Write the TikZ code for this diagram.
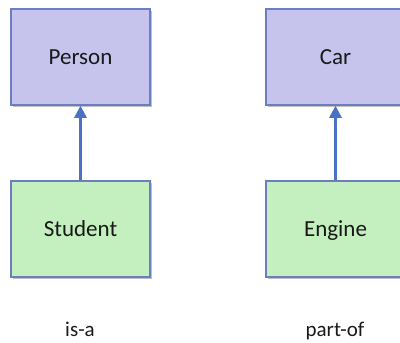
\documentclass[tikz,border=0pt]{standalone}
\usepackage{fontspec}
\setmainfont{Carlito}
\usetikzlibrary{arrows.meta,shadows}
\definecolor{boxline}{HTML}{6A80BE}
\definecolor{topfill}{HTML}{C6C3EC}
\definecolor{botfill}{HTML}{C3F0BE}
\definecolor{arrowcol}{HTML}{4A72C4}
\begin{document}
\begin{tikzpicture}[x=1pt,y=-1pt,
  cls/.style={draw=boxline,line width=1.5pt,minimum width=139pt,minimum height=96pt,
    inner sep=0pt,text height=15pt,text depth=0pt,font=\fontsize{23}{26}\selectfont,text=black!90,
    drop shadow={shadow xshift=1.5pt,shadow yshift=-1.5pt,opacity=0.45,fill=black!55}},
  upper/.style={cls,fill=topfill},
  lower/.style={cls,fill=botfill},
  rel/.style={draw=arrowcol,line width=2.6pt,-{Triangle[length=12pt,width=12pt]}},
  lbl/.style={anchor=base,inner sep=0pt,font=\fontsize{21}{24}\selectfont,text=black!90}]
\useasboundingbox (0,0) rectangle (400,343);
\begin{scope}
\clip (0,0) rectangle (400,343);
\node[upper] (person) at (80.5,57) {Person};
\node[lower] (student) at (80.5,229) {Student};
\node[upper] (car) at (335.5,57) {Car};
\node[lower] (engine) at (335.5,229) {Engine};
\draw[rel] (student.north) -- (person.south);
\draw[rel] (engine.north) -- (car.south);
\node[lbl] (isa) at (80,336) {is-a};
\node[lbl] (partof) at (335,336) {part-of};
\end{scope}
\end{tikzpicture}
\end{document}
